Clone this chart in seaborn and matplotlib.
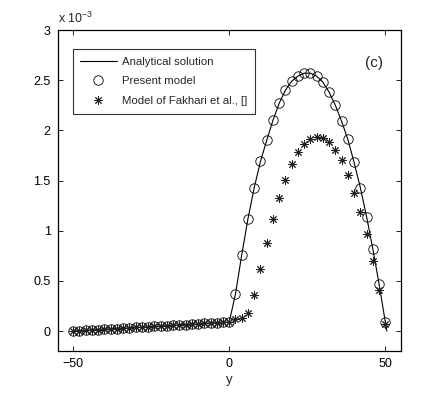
import numpy as np
import pandas as pd
import matplotlib
matplotlib.use("Agg")
import matplotlib.pyplot as plt
import seaborn as sns

# ---- data (values in units of 1e-3) ----
y_pos = list(range(-50, 51, 2))
left_part = [0.000, 0.004, 0.007, 0.011, 0.014, 0.018, 0.022, 0.025, 0.029, 0.032,
             0.036, 0.040, 0.043, 0.047, 0.050, 0.054, 0.058, 0.061, 0.065, 0.068,
             0.072, 0.076, 0.079, 0.083, 0.086, 0.090]
present_right = [0.37, 0.76, 1.12, 1.43, 1.69, 1.90, 2.10, 2.27, 2.40, 2.49,
                 2.54, 2.57, 2.57, 2.54, 2.48, 2.38, 2.25, 2.09, 1.91, 1.68,
                 1.43, 1.14, 0.82, 0.47, 0.09]
fakhari_right = [0.12, 0.13, 0.18, 0.36, 0.62, 0.88, 1.12, 1.33, 1.51, 1.66,
                 1.78, 1.86, 1.91, 1.93, 1.92, 1.88, 1.80, 1.70, 1.56, 1.38,
                 1.19, 0.97, 0.70, 0.41, 0.07]
present_vals = left_part + present_right
fakhari_vals = left_part + fakhari_right
analytic_x = y_pos + [50.5]
analytic_vals = present_vals + [0.0]

labels = ["Analytical solution", "Present model", "Model of Fakhari et al., []"]
x_ticks = [-50, 0, 50]
y_ticks = [0, 0.5, 1, 1.5, 2, 2.5, 3]
y_ticklabels = ["0", "0.5", "1", "1.5", "2", "2.5", "3"]

df_an = pd.DataFrame({"y": analytic_x, "u": analytic_vals})
df_pr = pd.DataFrame({"y": y_pos, "u": present_vals})
df_fk = pd.DataFrame({"y": y_pos, "u": fakhari_vals})

sns.set_style("ticks")
plt.rcParams["font.family"] = ["Liberation Sans", "DejaVu Sans"]
plt.rcParams["mathtext.fontset"] = "custom"
plt.rcParams["mathtext.rm"] = "Liberation Sans"
plt.rcParams["mathtext.it"] = "Liberation Sans"

fig = plt.figure(figsize=(4.43, 3.95), dpi=100)
ax = fig.add_axes([0.130, 0.111, 0.775, 0.813])

sns.lineplot(data=df_an, x="y", y="u", ax=ax, color="black", linewidth=0.8,
             label=labels[0], sort=False, estimator=None)
ax.plot(df_pr["y"], df_pr["u"], linestyle="none", marker="o", markersize=6.8,
        markerfacecolor="none", markeredgecolor="black", markeredgewidth=0.6,
        label=labels[1])
ax.plot(df_fk["y"], df_fk["u"], linestyle="none", marker=(8, 2, 0), markersize=6,
        markeredgecolor="#202020", markeredgewidth=0.7, color="#202020",
        label=labels[2])

ax.set_xlim(-55, 55)
ax.set_ylim(-0.2, 3.0)
ax.set_xticks(x_ticks)
ax.set_xticklabels(["\u221250", "0", "50"])
ax.set_yticks(y_ticks)
ax.set_yticklabels(y_ticklabels)
ax.tick_params(direction="in", length=3.5, width=0.6, labelsize=9,
               top=True, right=True, colors="black", pad=5)
for s in ax.spines.values():
    s.set_visible(True)
    s.set_linewidth(0.9)
    s.set_color("black")
ax.set_xlabel("y", fontsize=9.5, labelpad=3)
ax.set_ylabel("")

ax.text(0.0, 1.012, r"x 10$^{-3}$", transform=ax.transAxes, fontsize=9,
        ha="left", va="bottom")
ax.text(46.5, 2.67, "(c)", fontsize=11, ha="center", va="center")

leg = ax.legend(loc="upper left", bbox_to_anchor=(0.044, 0.94), borderaxespad=0,
                fontsize=8.2, frameon=True, fancybox=False, handlelength=3.2,
                handletextpad=0.5, borderpad=0.65, labelspacing=0.86)
leg.get_frame().set_edgecolor("black")
leg.get_frame().set_linewidth(0.8)

fig.savefig("out.png", dpi=100)
